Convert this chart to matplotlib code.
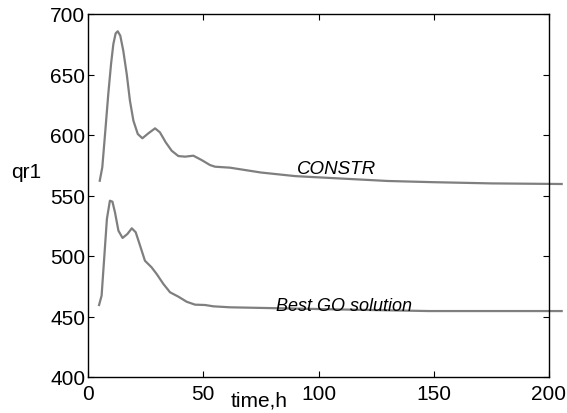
import matplotlib
matplotlib.use("Agg")
import matplotlib.pyplot as plt

plt.rcParams['font.family'] = ['Liberation Sans', 'DejaVu Sans']

# CONSTR curve
t_constr = [5.1, 6.2, 7.4, 8.8, 10, 11, 12, 12.9, 14, 15.3, 16.8, 18.2, 19.7, 21.6, 23.6,
            26.2, 29.1, 31.2, 33.7, 36.3, 39.2, 42.1, 45.7, 49.3, 52.9, 55.1, 61.6, 75,
            90, 110, 130, 150, 175, 205.5]
q_constr = [562.2, 573.3, 600.8, 633.9, 658.7, 675.2, 684, 685.7, 682.1, 669.7, 650.4, 628.3,
            611.8, 600.8, 597.3, 601.4, 605.5, 602.2, 594, 587, 582.6, 582.1, 582.9, 579.3,
            575.2, 573.8, 573.0, 569, 566, 564, 562, 561, 560, 559.5]

# Best GO solution curve
t_go = [4.8, 5.9, 7.1, 8.2, 9.5, 10.6, 11.7, 13.2, 15, 17.1, 19, 20.7, 22.6, 24.7, 27.6,
        29.8, 32.7, 35.6, 39.2, 42.8, 46.4, 50.8, 54.4, 61.6, 83, 110, 148, 205.5]
q_go = [459.5, 467.2, 500.2, 530.6, 545.7, 544.9, 536.1, 520.9, 514.9, 518.2, 522.9, 519.6,
        508.5, 496.1, 490.6, 485.1, 476.9, 470, 466.4, 462.2, 459.8, 459.5, 458.4, 457.6,
        456.8, 455.8, 454.5, 454.5]

x_ticks = [0, 50, 100, 150, 200]
y_ticks = [400, 450, 500, 550, 600, 650, 700]

fig = plt.figure(figsize=(5.67, 4.14), dpi=100)
ax = fig.add_axes([88/567, 1-378/414, (549-88)/567, (378-15)/414])

line_color = '#7f7f7f'
ax.plot(t_constr, q_constr, color=line_color, lw=1.6, clip_on=False)
ax.plot(t_go, q_go, color=line_color, lw=1.6, clip_on=False)

ax.set_xlim(0, 200)
ax.set_ylim(400, 700)
ax.set_xticks(x_ticks)
ax.set_yticks(y_ticks)
ax.tick_params(direction='in', top=True, right=True, labelsize=15,
               length=4, width=0.8)
ax.tick_params(axis='x', pad=5)
ax.tick_params(axis='y', pad=2)
for s in ax.spines.values():
    s.set_linewidth(1.0)

ax.text(108, 572.7, 'CONSTR', style='italic', fontsize=13.5, ha='center', va='center')
ax.text(111, 459.1, 'Best GO solution', style='italic', fontsize=13, ha='center', va='center')

ax.set_xlabel('time,h', fontsize=15)
ax.xaxis.set_label_coords(0.371, -0.063)
ax.xaxis.label.set_va('center')
ax.set_ylabel('qr1', fontsize=15, rotation=0, ha='center', va='center')
ax.yaxis.set_label_coords(-0.134, 0.567)

fig.savefig('out.png', dpi=100)
